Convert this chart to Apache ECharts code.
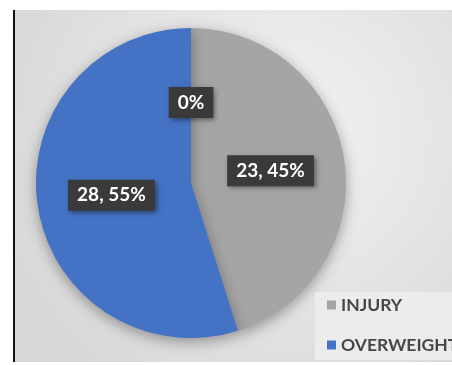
<!DOCTYPE html>
<html>
<head>
<meta charset="utf-8">
<script src="https://cdn.jsdelivr.net/npm/echarts@6/dist/echarts.min.js"></script>
<style>
  html, body { margin: 0; padding: 0; background: #fff; }
  #chart { width: 452px; height: 365px; }
</style>
</head>
<body>
<div id="chart"></div>
<script>
// Causes and their counts
const categories = ['INJURY', 'OVERWEIGHT', 'OTHER'];
const counts = [23, 28, 0];
const legendNames = ['INJURY', 'OVERWEIGHT'];
const sliceColors = ['#a5a5a5', '#4472c4', '#ed7d31'];

const chart = echarts.init(document.getElementById('chart'), null, { renderer: 'canvas' });

const pieData = categories.map((name, i) => ({
  name: name,
  value: counts[i],
  itemStyle: { color: sliceColors[i] }
}));

chart.setOption({
  backgroundColor: '#ffffff',
  animation: false,
  graphic: [
    {
      type: 'rect',
      shape: { x: 15, y: 10, width: 437, height: 352 },
      style: {
        fill: {
          type: 'radial', x: 0.62, y: 0.35, r: 0.85,
          colorStops: [
            { offset: 0, color: '#f3f3f3' },
            { offset: 1, color: '#d8d8d8' }
          ]
        }
      },
      z: -10
    },
    {
      type: 'rect',
      shape: { x: 13, y: 10, width: 2, height: 352 },
      style: { fill: '#111111' },
      z: -9
    }
  ],
  legend: {
    data: legendNames,
    orient: 'vertical',
    left: 315,
    top: 292,
    width: 137,
    padding: [4, 20, 6, 12],
    itemGap: 22,
    itemWidth: 9,
    itemHeight: 9,
    icon: 'rect',
    backgroundColor: '#ececec',
    textStyle: {
      fontFamily: 'Lato',
      fontWeight: 'bold',
      fontSize: 17.5,
      color: '#474747'
    }
  },
  series: [
    {
      type: 'pie',
      center: [191, 183],
      radius: 155,
      startAngle: 90,
      clockwise: true,
      percentPrecision: 0,
      avoidLabelOverlap: false,
      stillShowZeroSum: true,
      itemStyle: {
        borderWidth: 0,
        shadowBlur: 14,
        shadowColor: 'rgba(0,0,0,0.35)',
        shadowOffsetY: 4
      },
      label: {
        show: true,
        position: 'inside',
        formatter: function (p) {
          return p.value === 0 ? p.percent + '%' : p.value + ', ' + p.percent + '%';
        },
        color: '#ffffff',
        fontFamily: 'Lato',
        fontWeight: 'bold',
        fontSize: 19,
        backgroundColor: '#3a3a3a',
        padding: [6, 9, 6, 9],
        shadowBlur: 5,
        shadowColor: 'rgba(0,0,0,0.45)',
        shadowOffsetX: 2,
        shadowOffsetY: 2
      },
      labelLine: { show: false },
      emphasis: { disabled: true },
      data: pieData
    }
  ]
});
</script>
</body>
</html>
